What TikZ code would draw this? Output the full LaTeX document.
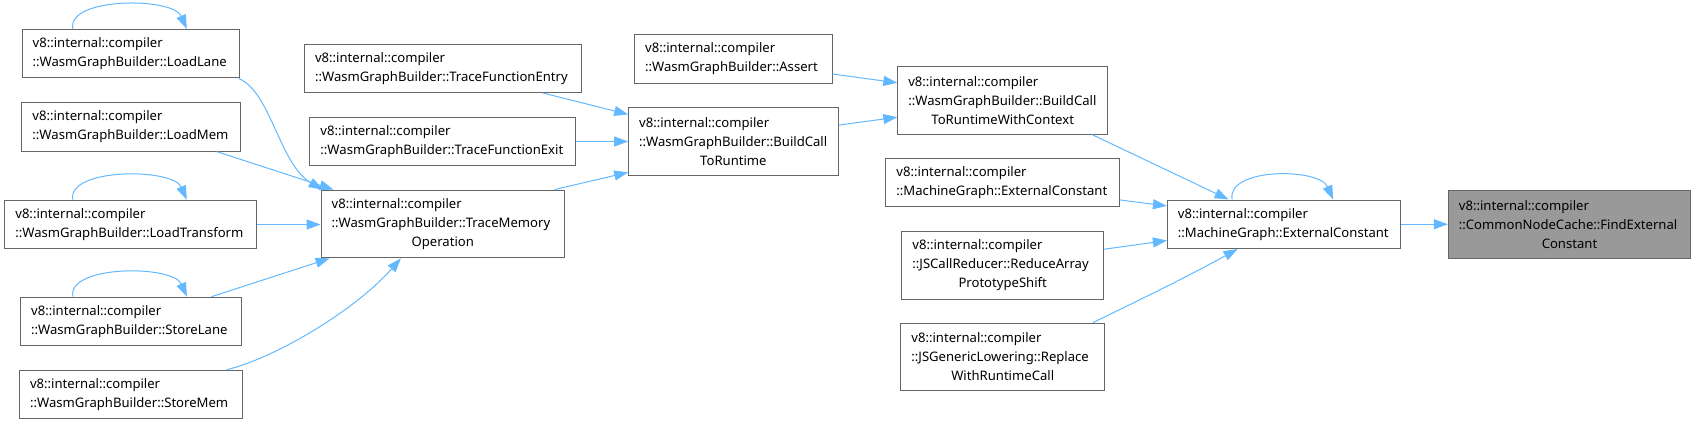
\documentclass[tikz,border=0pt]{standalone}
\usepackage{fontspec}
\setmainfont{Noto Sans}
\usetikzlibrary{arrows.meta}
\definecolor{edgeblue}{HTML}{63B8FF}
\definecolor{boxborder}{HTML}{666666}
\definecolor{hilite}{HTML}{999999}
\setlength{\parindent}{0pt}
\begin{document}
\begin{tikzpicture}[x=1pt,y=1pt,
  fnbox/.style={draw=boxborder, line width=1pt, fill=white, rectangle, inner sep=0pt,
    align=left, text=black, font=\fontsize{13.1}{19}\selectfont},
  hibox/.style={fnbox, fill=hilite},
  edge/.style={draw=edgeblue, line width=1pt, -{Triangle[length=14pt,width=10pt]}}]
\useasboundingbox (0,0) rectangle (1696,-425);

% rank 5
\node[fnbox, minimum width=217.3pt, minimum height=48.6pt, text width=196.3pt] (LoadLane) at (130.8,-53.65)
  {v8::internal::compiler\\::WasmGraphBuilder::LoadLane};
\node[fnbox, minimum width=218.7pt, minimum height=48.6pt, text width=197.7pt] (LoadMem) at (131.3,-126.85)
  {v8::internal::compiler\\::WasmGraphBuilder::LoadMem};
\node[fnbox, minimum width=251.9pt, minimum height=48.6pt, text width=230.9pt] (LoadTransform) at (130.8,-224.5)
  {v8::internal::compiler\\::WasmGraphBuilder::LoadTransform};
\node[fnbox, minimum width=220.5pt, minimum height=48.6pt, text width=199.5pt] (StoreLane) at (130.9,-321.5)
  {v8::internal::compiler\\::WasmGraphBuilder::StoreLane};
\node[fnbox, minimum width=222.7pt, minimum height=48.6pt, text width=201.7pt] (StoreMem) at (130.9,-394.5)
  {v8::internal::compiler\\::WasmGraphBuilder::StoreMem};

% rank 4
\node[fnbox, minimum width=276.5pt, minimum height=48.2pt, text width=255.5pt] (TFEntry) at (442.8,-68.3)
  {v8::internal::compiler\\::WasmGraphBuilder::TraceFunctionEntry};
\node[fnbox, minimum width=265.7pt, minimum height=48.6pt, text width=244.7pt] (TFExit) at (442.8,-141.5)
  {v8::internal::compiler\\::WasmGraphBuilder::TraceFunctionExit};
\node[fnbox, minimum width=243.4pt, minimum height=67.8pt, text width=222.4pt] (TraceMemOp) at (442.8,-224)
  {v8::internal::compiler\\::WasmGraphBuilder::TraceMemory\par{\centering Operation\par}};

% rank 3
\node[fnbox, minimum width=197.6pt, minimum height=48.4pt, text width=176.6pt] (Assert) at (733.4,-58.85)
  {v8::internal::compiler\\::WasmGraphBuilder::Assert};
\node[fnbox, minimum width=209.5pt, minimum height=67.5pt, text width=188.5pt] (BuildCall) at (733.4,-141.65)
  {v8::internal::compiler\\::WasmGraphBuilder::BuildCall\par{\centering ToRuntime\par}};

% rank 2
\node[fnbox, minimum width=209.8pt, minimum height=67.5pt, text width=188.8pt] (WithContext) at (1002.7,-100.25)
  {v8::internal::compiler\\::WasmGraphBuilder::BuildCall\par{\centering ToRuntimeWithContext\par}};
\node[fnbox, minimum width=233.5pt, minimum height=48.6pt, text width=212.5pt] (MGleft) at (1002.7,-182.65)
  {v8::internal::compiler\\::MachineGraph::ExternalConstant};
\node[fnbox, minimum width=201.6pt, minimum height=67.5pt, text width=180.6pt] (Reduce) at (1002.7,-265.5)
  {v8::internal::compiler\\::JSCallReducer::ReduceArray\par{\centering PrototypeShift\par}};
\node[fnbox, minimum width=203.6pt, minimum height=67.8pt, text width=182.6pt] (Replace) at (1002.7,-357)
  {v8::internal::compiler\\::JSGenericLowering::Replace\par{\centering WithRuntimeCall\par}};

% rank 1
\node[fnbox, minimum width=233.5pt, minimum height=48.5pt, text width=212.5pt] (MGcenter) at (1284.15,-224.25)
  {v8::internal::compiler\\::MachineGraph::ExternalConstant};

% rank 0
\node[hibox, minimum width=242.2pt, minimum height=68pt, text width=221.2pt] (FindExt) at (1569.5,-224.3)
  {v8::internal::compiler\\::CommonNodeCache::FindExternal\par{\centering Constant\par}};

% edges into TraceMemOp
\draw[edge] ([xshift=-1.3pt]LoadLane.south east) .. controls +(32,-13) and +(-43,25) .. ([xshift=2pt]TraceMemOp.north west);
\draw[edge] ([xshift=-24.3pt]LoadMem.south east) -- ([xshift=12.9pt]TraceMemOp.north west);
\draw[edge] (LoadTransform.east) -- (LoadTransform.east -| TraceMemOp.west);
\draw[edge] ([xshift=-30.2pt]StoreLane.north east) -- ([xshift=9pt]TraceMemOp.south west);
\draw[edge] ([xshift=-15.9pt]StoreMem.north east) .. controls +(49,12) and +(-46,-52) .. ([xshift=80.3pt]TraceMemOp.south west);

% self loops
\draw[edge] ([xshift=-58pt]LoadLane.north) .. controls +(-6,32) and +(-14,32) .. ([xshift=56pt]LoadLane.north);
\draw[edge] ([xshift=-58pt]LoadTransform.north) .. controls +(-6,32) and +(-14,32) .. ([xshift=56pt]LoadTransform.north);
\draw[edge] ([xshift=-58pt]StoreLane.north) .. controls +(-6,32) and +(-14,32) .. ([xshift=56pt]StoreLane.north);
\draw[edge] ([xshift=-52pt]MGcenter.north) .. controls +(-6,32) and +(-14,32) .. ([xshift=49pt]MGcenter.north);

% edges into BuildCall
\draw[edge] ([xshift=-39pt]TFEntry.south east) -- ([yshift=-7pt]BuildCall.north west);
\draw[edge] (TFExit.east) -- (TFExit.east -| BuildCall.west);
\draw[edge] ([xshift=-10.5pt]TraceMemOp.north east) -- ([yshift=3.6pt]BuildCall.south west);

% edges into WithContext
\draw[edge] ([yshift=9.5pt]Assert.south east) -- ([yshift=-16.8pt]WithContext.north west);
\draw[edge] ([yshift=-17.7pt]BuildCall.north east) -- ([yshift=17.3pt]WithContext.south west);

% edges into MGcenter
\draw[edge] ([xshift=-16.2pt]WithContext.south east) -- ([xshift=61.7pt]MGcenter.north west);
\draw[edge] ([yshift=7.5pt]MGleft.south east) -- ([yshift=-6.5pt]MGcenter.north west);
\draw[edge] ([yshift=-18pt]Reduce.north east) -- ([yshift=8.5pt]MGcenter.south west);
\draw[edge] ([xshift=-12.1pt]Replace.north east) .. controls +(47.5,23) and +(-48,-26.5) .. ([xshift=70.7pt]MGcenter.south west);

% into FindExt
\draw[edge] (MGcenter.east) -- (MGcenter.east -| FindExt.west);
\end{tikzpicture}
\end{document}
